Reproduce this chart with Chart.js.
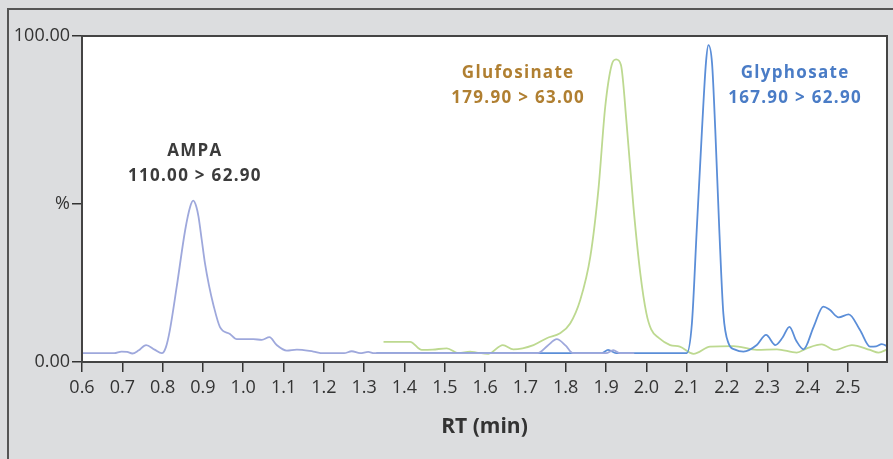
<!DOCTYPE html>
<html>
<head>
<meta charset="utf-8">
<script src="https://cdn.jsdelivr.net/npm/chart.js@4"></script>
<style>
  body { margin: 0; background: #dcdddf; }
  #wrap { width: 893px; height: 459px; position: relative; }
</style>
</head>
<body>
<div id="wrap"><canvas id="chart"></canvas></div>
<script>
// AMPA trace (110.00 > 62.90)
var ampaRt  = [0.60, 0.68, 0.698, 0.712, 0.725, 0.74, 0.759, 0.78, 0.798, 0.808, 0.818, 0.835, 0.856, 0.868, 0.876, 0.884, 0.889, 0.897, 0.905, 0.915, 0.926, 0.942, 0.967, 0.984, 1.025, 1.046, 1.065, 1.083, 1.108, 1.133, 1.174, 1.198, 1.25, 1.269, 1.29, 1.31, 1.325, 1.73, 1.755, 1.778, 1.80, 1.818, 1.90, 1.918, 1.935, 1.97];
var ampaPct = [2.7, 2.7, 3.2, 3.1, 2.6, 3.5, 5.2, 3.8, 2.7, 4.5, 9.8, 23.1, 40.5, 47.5, 49.5, 47.5, 44.6, 37.5, 30.3, 23.5, 17.5, 10.8, 8.6, 7.0, 7.0, 6.8, 7.6, 5.2, 3.5, 3.8, 3.2, 2.7, 2.7, 3.3, 2.7, 3.1, 2.7, 2.7, 5.0, 7.0, 5.0, 2.7, 2.7, 3.6, 2.7, 2.7];

// Glyphosate trace (167.90 > 62.90)
var glyphRt  = [1.33, 1.89, 1.905, 1.925, 2.10, 2.113, 2.125, 2.138, 2.148, 2.154, 2.163, 2.171, 2.181, 2.191, 2.204, 2.22, 2.241, 2.274, 2.297, 2.32, 2.338, 2.355, 2.372, 2.39, 2.415, 2.439, 2.455, 2.477, 2.502, 2.53, 2.555, 2.57, 2.584, 2.60];
var glyphPct = [2.7, 2.7, 3.7, 2.7, 2.7, 11.8, 40.5, 71.2, 92.0, 97.2, 91.6, 71.2, 40.5, 14.9, 5.7, 3.8, 3.2, 5.2, 8.3, 5.2, 7.5, 10.8, 6.5, 3.9, 10.8, 17.0, 16.0, 13.7, 14.6, 9.8, 4.7, 4.8, 5.5, 4.7];

// Glufosinate trace (179.90 > 63.00)
var glufRt  = [1.348, 1.414, 1.443, 1.47, 1.505, 1.534, 1.563, 1.579, 1.608, 1.644, 1.67, 1.72, 1.753, 1.786, 1.811, 1.836, 1.861, 1.881, 1.898, 1.914, 1.925, 1.937, 1.951, 1.968, 1.985, 2.0, 2.012, 2.03, 2.059, 2.083, 2.117, 2.158, 2.216, 2.274, 2.324, 2.373, 2.398, 2.435, 2.468, 2.51, 2.555, 2.576, 2.598];
var glufPct = [6.2, 6.2, 3.7, 3.8, 4.2, 2.7, 3.2, 2.9, 2.5, 5.2, 3.9, 5.2, 7.3, 8.8, 11.8, 19.0, 32.3, 52.8, 78.3, 91.1, 92.8, 91.1, 73.2, 47.6, 27.2, 15.0, 10.0, 7.5, 5.2, 4.7, 2.5, 4.7, 4.9, 3.7, 3.9, 2.9, 4.2, 5.4, 3.7, 5.2, 3.7, 2.9, 3.9];

// axis ticks
var xTicks = [0.6, 0.7, 0.8, 0.9, 1.0, 1.1, 1.2, 1.3, 1.4, 1.5, 1.6, 1.7, 1.8, 1.9, 2.0, 2.1, 2.2, 2.3, 2.4, 2.5];
var yTicks = [0, 48.5, 100];
var yTickLabels = ['0.00', '%', '100.00'];

// peak labels
var peakLabels = [
    { lines: ['AMPA', '110.00 > 62.90'], rt: 0.88, pct: 61, color: '#3b3b3b' },
    { lines: ['Glufosinate', '179.90 > 63.00'], rt: 1.682, pct: 85, color: '#b07f31' },
    { lines: ['Glyphosate', '167.90 > 62.90'], rt: 2.369, pct: 85, color: '#4a7cc6' }
];

function toPoints(xs, ys) {
    return xs.map((x, i) => ({ x: x, y: ys[i] }));
}

// gray frame behind the plot, white plot area and its border
var framePlugin = {
    id: 'frame',
    beforeDraw(chart) {
        let ctx = chart.ctx;
        let a = chart.chartArea;
        ctx.save();
        ctx.fillStyle = '#dcdddf';
        ctx.fillRect(0, 0, chart.width, chart.height);
        ctx.strokeStyle = '#555';
        ctx.lineWidth = 2;
        ctx.beginPath();
        ctx.moveTo(8, chart.height);
        ctx.lineTo(8, 9);
        ctx.lineTo(chart.width, 9);
        ctx.stroke();
        ctx.fillStyle = '#fff';
        ctx.fillRect(a.left, a.top, a.right - a.left, a.bottom - a.top);
        ctx.restore();
    },
    afterDraw(chart) {
        let ctx = chart.ctx;
        let a = chart.chartArea;
        ctx.save();
        ctx.strokeStyle = '#444';
        ctx.lineWidth = 2;
        ctx.strokeRect(a.left, a.top, a.right - a.left, a.bottom - a.top);
        ctx.restore();
    }
};

// peak name + transition text
var labelPlugin = {
    id: 'peakLabels',
    afterDatasetsDraw(chart) {
        let ctx = chart.ctx;
        let xs = chart.scales.x;
        let ys = chart.scales.y;
        ctx.save();
        ctx.font = 'bold 17px "Open Sans"';
        ctx.textAlign = 'center';
        ctx.textBaseline = 'middle';
        ctx.letterSpacing = '1.3px';
        peakLabels.forEach(lbl => {
            let px = xs.getPixelForValue(lbl.rt);
            let py = ys.getPixelForValue(lbl.pct);
            ctx.fillStyle = lbl.color;
            lbl.lines.forEach((line, i) => {
                ctx.fillText(line, px, py - 11.5 + i * 24.5);
            });
        });
        ctx.restore();
    }
};

var ctx = document.getElementById('chart');

var chart = new Chart(ctx, {
    type: 'line',
    data: {
        datasets: [{
            label: 'AMPA',
            data: toPoints(ampaRt, ampaPct),
            borderColor: '#9ea8dc',
            borderWidth: 1.8
        }, {
            label: 'Glyphosate',
            data: toPoints(glyphRt, glyphPct),
            borderColor: '#5b8ed8',
            borderWidth: 1.8
        }, {
            label: 'Glufosinate',
            data: toPoints(glufRt, glufPct),
            borderColor: '#bdd990',
            borderWidth: 1.8
        }]
    },
    options: {
        responsive: true,
        maintainAspectRatio: false,
        animation: false,
        events: [],
        layout: { padding: { left: 0, top: 36, right: 6, bottom: 0 } },
        elements: {
            point: { radius: 0 },
            line: { cubicInterpolationMode: 'monotone' }
        },
        plugins: {
            legend: { display: false },
            tooltip: { enabled: false }
        },
        scales: {
            x: {
                type: 'linear',
                min: 0.6,
                max: 2.597,
                afterBuildTicks: scale => {
                    scale.ticks = xTicks.map(v => ({ value: v }));
                },
                afterFit: scale => { scale.height = 97; },
                grid: { drawOnChartArea: false, drawTicks: true, tickLength: 10, color: '#333', lineWidth: 1.5 },
                border: { display: true, color: '#444', width: 2 },
                ticks: {
                    padding: 5,
                    color: '#333',
                    font: { family: 'Open Sans', size: 18 },
                    maxRotation: 0,
                    autoSkip: false,
                    callback: v => v.toFixed(1)
                },
                title: {
                    display: true,
                    text: 'RT (min)',
                    color: '#333',
                    font: { family: 'Open Sans', size: 21, weight: 'bold' },
                    padding: { top: 0, bottom: 19 }
                }
            },
            y: {
                min: 0,
                max: 100,
                afterBuildTicks: scale => {
                    scale.ticks = yTicks.map(v => ({ value: v }));
                },
                afterFit: scale => { scale.width = 82; },
                grid: { drawOnChartArea: false, drawTicks: true, tickLength: 10, color: '#333', lineWidth: 1.5 },
                border: { display: true, color: '#444', width: 2 },
                ticks: {
                    padding: 2,
                    color: '#333',
                    font: { family: 'Open Sans', size: 18 },
                    autoSkip: false,
                    callback: (v, i) => yTickLabels[i]
                }
            }
        }
    },
    plugins: [framePlugin, labelPlugin]
});
</script>
</body>
</html>
